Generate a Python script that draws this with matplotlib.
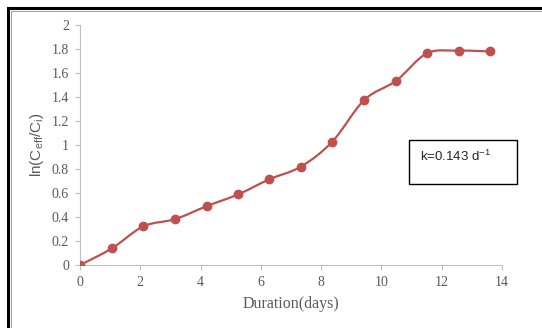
import matplotlib
matplotlib.use("Agg")
import matplotlib.pyplot as plt
from matplotlib.path import Path
from matplotlib.patches import PathPatch, Rectangle
from matplotlib.lines import Line2D
import numpy as np

days = [0, 1.06, 2.1, 3.15, 4.2, 5.25, 6.28, 7.33, 8.37, 9.43, 10.49, 11.51, 12.56, 13.59]
ln_ratio = [0.0, 0.139, 0.322, 0.382, 0.49, 0.589, 0.714, 0.82, 1.028, 1.375, 1.536, 1.764, 1.786, 1.78]
x_ticks = [0, 2, 4, 6, 8, 10, 12, 14]
y_ticks = [0, 0.2, 0.4, 0.6, 0.8, 1, 1.2, 1.4, 1.6, 1.8, 2]
annotation = "k=0.143 d$^{-1}$"

plt.rcParams['mathtext.fontset'] = 'custom'
plt.rcParams['mathtext.rm'] = 'Liberation Sans'
plt.rcParams['mathtext.it'] = 'Liberation Sans'

fig = plt.figure(figsize=(5.42, 3.28), dpi=100)
ax = fig.add_axes([80/542, 63/328, 422/542, 240/328])

color = '#C0504D'
# Excel-like smoothed line (cubic Bezier through data points)
x = np.array(days, float)
y = np.array(ln_ratio, float)
n = len(x)
verts = [(x[0], y[0])]
codes = [Path.MOVETO]
for i in range(n - 1):
    p0 = np.array([x[max(i - 1, 0)], y[max(i - 1, 0)]])
    p1 = np.array([x[i], y[i]])
    p2 = np.array([x[i + 1], y[i + 1]])
    p3 = np.array([x[min(i + 2, n - 1)], y[min(i + 2, n - 1)]])
    c1 = p1 + (p2 - p0) / 6
    c2 = p2 - (p3 - p1) / 6
    verts += [tuple(c1), tuple(c2), tuple(p2)]
    codes += [Path.CURVE4] * 3
ax.add_patch(PathPatch(Path(verts, codes), facecolor='none', edgecolor=color, lw=1.6, zorder=2))
ax.plot(days, ln_ratio, linestyle='none', marker='o', markersize=6, color=color, zorder=3)

ax.set_xlim(0, 14)
ax.set_ylim(0, 2)
ax.set_xticks(x_ticks)
ax.set_yticks(y_ticks)
ax.set_xticklabels([str(t) for t in x_ticks])
ax.set_yticklabels([f"{t:g}" for t in y_ticks])
for s in ['top', 'right']:
    ax.spines[s].set_visible(False)
for s in ['left', 'bottom']:
    ax.spines[s].set_color('#BFBFBF')
    ax.spines[s].set_linewidth(0.8)
ax.tick_params(axis='both', direction='out', length=3.5, width=0.8, color='#BFBFBF',
               labelcolor='#595959', labelsize=10, pad=4.5)
for lab in ax.get_xticklabels() + ax.get_yticklabels():
    lab.set_family('Liberation Serif')

ax.set_xlabel('Duration(days)', family='Liberation Serif', fontsize=11.5, color='#595959', labelpad=5)
ax.set_ylabel(r'ln(C$_{\mathrm{eff}}$/C$_{\mathrm{i}}$)', family='Liberation Sans', fontsize=11,
              color='#595959', labelpad=4)

# annotation box
fig.add_artist(Rectangle((409/542, 1 - 184/328), 108/542, 44/328, transform=fig.transFigure,
                         facecolor='white', edgecolor='black', lw=1.0, zorder=5))
fig.text(420/542, 1 - 156/328, annotation, family='Liberation Sans', fontsize=9.5,
         color='#262626', va='center', ha='left', zorder=6)

# outer frame (left & top visible)
fig.add_artist(Line2D([8/542, 8/542], [0, 1 - 8/328], transform=fig.transFigure, color='black', lw=2.2))
fig.add_artist(Line2D([8/542, 1], [1 - 8/328, 1 - 8/328], transform=fig.transFigure, color='black', lw=2.2))
fig.add_artist(Line2D([11/542, 11/542], [0, 1 - 11/328], transform=fig.transFigure, color='#A0A0A0', lw=0.7))
fig.add_artist(Line2D([11/542, 1], [1 - 11/328, 1 - 11/328], transform=fig.transFigure, color='#A0A0A0', lw=0.7))

fig.savefig('out.png', dpi=100)
